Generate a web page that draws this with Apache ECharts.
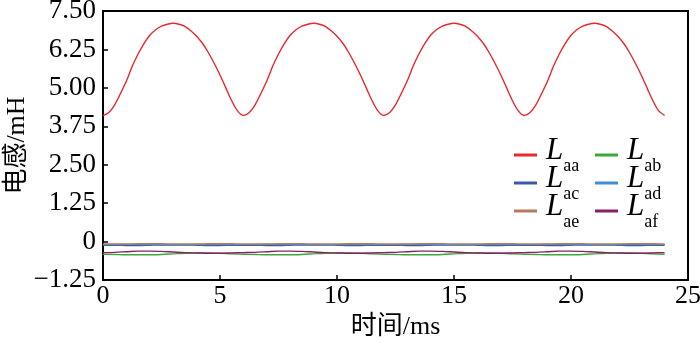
<!DOCTYPE html>
<html>
<head>
<meta charset="utf-8">
<script src="https://cdn.jsdelivr.net/npm/echarts@6/dist/echarts.min.js"></script>
<style>html,body{margin:0;padding:0;background:#fff}#c{width:700px;height:345px}</style>
</head>
<body>
<div id="c"></div>
<script>
// time in ms (fine grid for the self inductance, coarse grid for mutual inductances)
var timeFine = [0,0.25,0.5,0.75,1,1.25,1.5,1.75,2,2.25,2.5,2.75,3,3.25,3.5,3.75,4,4.25,4.5,4.75,5,5.25,5.5,5.75,
  6,6.25,6.5,6.75,7,7.25,7.5,7.75,8,8.25,8.5,8.75,9,9.25,9.5,9.75,10,10.25,10.5,10.75,11,11.25,11.5,11.75,
  12,12.25,12.5,12.75,13,13.25,13.5,13.75,14,14.25,14.5,14.75,15,15.25,15.5,15.75,16,16.25,16.5,16.75,17,17.25,17.5,17.75,
  18,18.25,18.5,18.75,19,19.25,19.5,19.75,20,20.25,20.5,20.75,21,21.25,21.5,21.75,22,22.25,22.5,22.75,23,23.25,23.5,23.75,24];
var timeMs = [0,0.5,1,1.5,2,2.5,3,3.5,4,4.5,5,5.5,6,6.5,7,7.5,8,8.5,9,9.5,10,10.5,11,11.5,12,12.5,13,13.5,14,14.5,15,15.5,16,16.5,17,17.5,18,18.5,19,19.5,20,20.5,21,21.5,22,22.5,23,23.5,24];
var Laa = [4.10,4.20,4.45,4.82,5.22,5.70,6.10,6.44,6.71,6.89,7.01,7.07,7.10,7.07,7.00,6.86,6.68,6.45,6.15,5.80,5.42,5.00,4.58,4.25,
           4.10,4.20,4.45,4.82,5.22,5.70,6.10,6.44,6.71,6.89,7.01,7.07,7.10,7.07,7.00,6.86,6.68,6.45,6.15,5.80,5.42,5.00,4.58,4.25,
           4.10,4.20,4.45,4.82,5.22,5.70,6.10,6.44,6.71,6.89,7.01,7.07,7.10,7.07,7.00,6.86,6.68,6.45,6.15,5.80,5.42,5.00,4.58,4.25,
           4.10,4.20,4.45,4.82,5.22,5.70,6.10,6.44,6.71,6.89,7.01,7.07,7.10,7.07,7.00,6.86,6.68,6.45,6.15,5.80,5.42,5.00,4.58,4.25,4.10];
var Lab = [-0.41,-0.42,-0.43,-0.43,-0.43,-0.42,-0.40,-0.38,-0.37,-0.37,-0.38,-0.40,
           -0.41,-0.42,-0.43,-0.43,-0.43,-0.42,-0.40,-0.38,-0.37,-0.37,-0.38,-0.40,
           -0.41,-0.42,-0.43,-0.43,-0.43,-0.42,-0.40,-0.38,-0.37,-0.37,-0.38,-0.40,
           -0.41,-0.42,-0.43,-0.43,-0.43,-0.42,-0.40,-0.38,-0.37,-0.37,-0.38,-0.40,-0.41];
var Lac = [-0.12,-0.12,-0.13,-0.13,-0.12,-0.11,-0.11,-0.11,-0.12,-0.13,-0.13,-0.12,
           -0.12,-0.12,-0.13,-0.13,-0.12,-0.11,-0.11,-0.11,-0.12,-0.13,-0.13,-0.12,
           -0.12,-0.12,-0.13,-0.13,-0.12,-0.11,-0.11,-0.11,-0.12,-0.13,-0.13,-0.12,
           -0.12,-0.12,-0.13,-0.13,-0.12,-0.11,-0.11,-0.11,-0.12,-0.13,-0.13,-0.12,-0.12];
var Lad = [-0.10,-0.10,-0.09,-0.09,-0.10,-0.11,-0.11,-0.11,-0.10,-0.09,-0.09,-0.10,
           -0.10,-0.10,-0.09,-0.09,-0.10,-0.11,-0.11,-0.11,-0.10,-0.09,-0.09,-0.10,
           -0.10,-0.10,-0.09,-0.09,-0.10,-0.11,-0.11,-0.11,-0.10,-0.09,-0.09,-0.10,
           -0.10,-0.10,-0.09,-0.09,-0.10,-0.11,-0.11,-0.11,-0.10,-0.09,-0.09,-0.10,-0.10];
var Lae = [-0.08,-0.08,-0.08,-0.07,-0.07,-0.07,-0.08,-0.08,-0.08,-0.07,-0.07,-0.07,
           -0.08,-0.08,-0.08,-0.07,-0.07,-0.07,-0.08,-0.08,-0.08,-0.07,-0.07,-0.07,
           -0.08,-0.08,-0.08,-0.07,-0.07,-0.07,-0.08,-0.08,-0.08,-0.07,-0.07,-0.07,
           -0.08,-0.08,-0.08,-0.07,-0.07,-0.07,-0.08,-0.08,-0.08,-0.07,-0.07,-0.07,-0.08];
var Laf = [-0.36,-0.35,-0.33,-0.31,-0.31,-0.32,-0.34,-0.36,-0.37,-0.38,-0.38,-0.37,
           -0.36,-0.35,-0.33,-0.31,-0.31,-0.32,-0.34,-0.36,-0.37,-0.38,-0.38,-0.37,
           -0.36,-0.35,-0.33,-0.31,-0.31,-0.32,-0.34,-0.36,-0.37,-0.38,-0.38,-0.37,
           -0.36,-0.35,-0.33,-0.31,-0.31,-0.32,-0.34,-0.36,-0.37,-0.38,-0.38,-0.37,-0.36];
var seriesNames = ['aa','ab','ac','ad','ae','af'];
var seriesColors = ['#e8282c','#3aa83a','#3a5aa8','#3f8fd2','#b8785a','#8a1f6a'];
var yTickLabels = {'-1.25':'\u22121.25','0':'0','1.25':'1.25','2.5':'2.50','3.75':'3.75','5':'5.00','6.25':'6.25','7.5':'7.50'};
var xTickLabels = ['0','5','10','15','20','25'];

var allData = [Laa, Lab, Lac, Lad, Lae, Laf];
var serif = '"Liberation Serif","Times New Roman","Noto Sans CJK SC",serif';
var chart = echarts.init(document.getElementById('c'), null, {renderer:'canvas'});
var series = allData.map(function(d, i){
  var t = (i === 0) ? timeFine : timeMs;
  return {
    name: seriesNames[i], type:'line', symbol:'none', smooth:0.3,
    data: d.map(function(v, j){ return [t[j], v]; }),
    lineStyle:{color:seriesColors[i], width:1.4}, itemStyle:{color:seriesColors[i]},
    z: 2
  };
});
var legendBase = {
  orient:'vertical', itemWidth:23, itemHeight:14, itemGap:-12, padding:0,
  icon:'path://M0,0 L23,0 L23,3 L0,3 Z',
  formatter: function(n){ return '{L|L}{s|' + n + '}'; },
  textStyle:{ padding:[0,0,0,4], rich:{
    L:{fontFamily:serif, fontStyle:'italic', fontSize:31, color:'#000', lineHeight:40, verticalAlign:'top'},
    s:{fontFamily:serif, fontSize:18, color:'#000', lineHeight:18, verticalAlign:'bottom'}
  }}
};
chart.setOption({
  animation:false,
  backgroundColor:'#fff',
  grid:{left:103, right:12, top:11, bottom:65, show:true, borderColor:'#000', borderWidth:2,
        backgroundColor:'transparent', containLabel:false, outerBoundsMode:'none'},
  legend:[
    Object.assign({left:514, top:135, data:['aa','ac','ae']}, legendBase),
    Object.assign({left:595, top:135, data:['ab','ad','af']}, legendBase)
  ],
  xAxis:{
    type:'value', min:0, max:25, interval:5,
    name:'时间/ms', nameLocation:'middle', nameGap:34, nameMoveOverlap:false,
    nameTextStyle:{fontFamily:serif, fontSize:26, color:'#000'},
    axisLine:{show:true, onZero:false, lineStyle:{color:'#000', width:2}},
    axisTick:{show:true, inside:true, length:5, lineStyle:{color:'#000', width:1.5}},
    axisLabel:{fontFamily:serif, fontSize:26, color:'#000', margin:3,
      formatter:function(v){ return xTickLabels[Math.round(v/5)]; }},
    splitLine:{show:false}
  },
  yAxis:{
    type:'value', min:-1.25, max:7.5, interval:1.25,
    name:'电感/mH', nameLocation:'middle', nameGap:73, nameMoveOverlap:false,
    nameTextStyle:{fontFamily:serif, fontSize:26, color:'#000'},
    axisLine:{show:true, onZero:false, lineStyle:{color:'#000', width:2}},
    axisTick:{show:true, inside:true, length:5, lineStyle:{color:'#000', width:1.5}},
    axisLabel:{fontFamily:serif, fontSize:27, color:'#000', margin:7,
      formatter:function(v){ var k = String(Math.round(v*100)/100); return yTickLabels[k] !== undefined ? yTickLabels[k] : k; }},
    splitLine:{show:false}
  },
  series: series
});
</script>
</body>
</html>
